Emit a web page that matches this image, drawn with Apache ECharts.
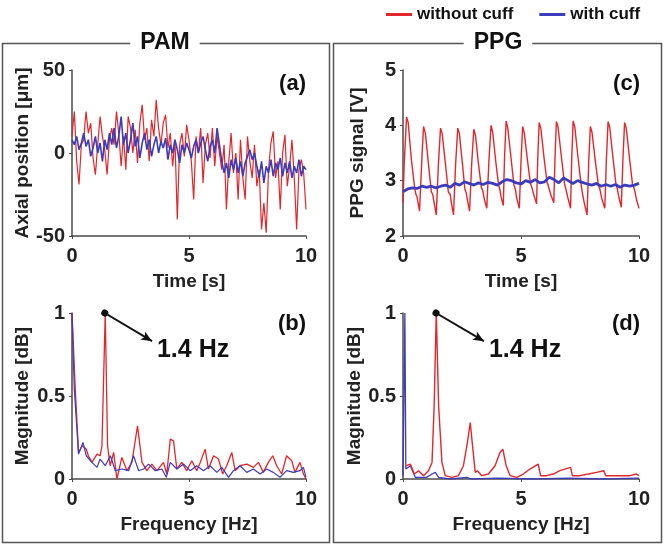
<!DOCTYPE html>
<html>
<head>
<meta charset="utf-8">
<script src="https://cdn.jsdelivr.net/npm/echarts@6/dist/echarts.min.js"></script>
<style>
  html, body { margin: 0; padding: 0; background: #fff; }
  #chart { width: 665px; height: 546px; }
</style>
</head>
<body>
<div id="chart"></div>
<script>
// PAM axial position, sampled every 0.1 s (0..10 s)
const pamWithout = [10, 25, -5, -19, 5, 8, 25, 12, 18, -3, -13, 5, 22, 10, 2, -13, 8, 15, 5, 25,
  12, -8, 10, -10, 22, 15, 0, 14, -6, 18, 29, 8, 15, -5, 20, 10, 32, 15, 5, 18,
  23, 3, 12, -8, 8, -40, 5, 12, -2, 17, 8, -5, -28, 10, 0, 15, -18, 5, 12, -3,
  15, -8, 10, 0, -10, 5, -34, -5, 12, -12, 0, -28, 8, -15, -28, 10, -5, -15, 5, -20,
  -10, -46, -30, -48, -10, 6, 13, -15, -5, -34, 0, 11, -20, -8, 8, -15, -46, -10, -4, -12, -34];
const pamWith = [8, 5, 10, 2, 6, 12, 4, 8, -2, 3, 10, 0, 6, -5, 8, 2, 12, 5, 15, 3,
  10, 22, 5, 12, 0, 8, 18, 4, 10, -3, 6, 12, 2, 8, -2, 5, 10, 0, 7, 3,
  9, -4, 5, 0, 8, 2, -6, 5, 0, 6, 2, -3, 4, 8, 0, 6, 10, 2, -5, 4,
  8, 0, 15, 5, -5, -12, -6, -15, -4, -10, -3, -12, -5, -14, -6, -2, 2, -4, 0, -8,
  -15, -5, -18, -8, -12, -4, -14, -6, -10, -3, -14, -6, -12, -5, -15, -8, -12, -4, -14, -8, -10];

// PPG signal [s, V]
const ppgWithout = [
  [0, 2.6], [0.05, 3.3], [0.15, 4.15], [0.22, 4.05], [0.35, 3.4], [0.5, 2.85], [0.55, 2.75], [0.6, 2.7], [0.7, 2.45],
  [0.8, 3.4], [0.87, 3.98], [0.95, 3.85], [1.08, 3.3], [1.2, 2.8], [1.26, 2.75], [1.3, 2.65], [1.41, 2.38],
  [1.5, 3.3], [1.59, 3.95], [1.66, 3.85], [1.8, 3.3], [1.92, 2.8], [2.0, 2.75], [2.05, 2.6], [2.14, 2.38],
  [2.23, 3.3], [2.32, 3.95], [2.39, 3.85], [2.52, 3.3], [2.62, 2.85], [2.68, 2.78], [2.73, 2.65], [2.82, 2.45],
  [2.91, 3.3], [3.0, 3.93], [3.07, 3.82], [3.2, 3.3], [3.32, 2.88], [3.38, 2.82], [3.44, 2.68], [3.55, 2.5],
  [3.64, 3.35], [3.73, 4.0], [3.8, 3.88], [3.93, 3.35], [4.05, 2.92], [4.1, 2.85], [4.15, 2.72], [4.25, 2.55],
  [4.3, 3.4], [4.37, 4.08], [4.44, 3.95], [4.58, 3.4], [4.7, 2.92], [4.76, 2.85], [4.82, 2.68], [4.93, 2.5],
  [5.0, 3.35], [5.07, 3.98], [5.14, 3.86], [5.28, 3.35], [5.4, 2.95], [5.46, 2.88], [5.54, 2.75], [5.66, 2.58],
  [5.71, 3.4], [5.77, 4.05], [5.84, 3.95], [5.98, 3.4], [6.1, 2.98], [6.16, 2.9], [6.26, 2.75], [6.39, 2.6],
  [6.44, 3.4], [6.5, 4.07], [6.57, 3.97], [6.72, 3.4], [6.84, 2.95], [6.9, 2.85], [6.98, 2.7], [7.1, 2.5],
  [7.15, 3.4], [7.21, 4.08], [7.28, 3.97], [7.42, 3.4], [7.55, 2.92], [7.6, 2.78], [7.68, 2.6], [7.8, 2.38],
  [7.87, 3.35], [7.94, 3.98], [8.01, 3.87], [8.15, 3.35], [8.28, 2.92], [8.34, 2.85], [8.42, 2.68], [8.55, 2.5],
  [8.62, 3.4], [8.69, 4.07], [8.76, 3.96], [8.9, 3.4], [9.02, 2.95], [9.08, 2.85], [9.15, 2.7], [9.25, 2.52],
  [9.32, 3.4], [9.39, 4.05], [9.46, 3.95], [9.6, 3.4], [9.72, 2.95], [9.8, 2.85], [9.9, 2.65], [10, 2.5]
];
// PPG with cuff, every 0.2 s
const ppgWith = [2.8, 2.85, 2.87, 2.86, 2.9, 2.88, 2.9, 2.87, 2.9, 2.92, 2.88, 2.95, 2.92, 2.98, 2.95, 2.92,
  2.96, 2.93, 2.97, 2.95, 2.92, 2.98, 3.02, 3.0, 2.96, 2.94, 3.0, 2.97, 3.02, 2.96, 2.98, 3.06,
  3.02, 2.96, 3.05, 3.0, 2.95, 3.0, 2.97, 2.94, 2.92, 2.95, 2.9, 2.93, 2.9, 2.93, 2.88, 2.92, 2.9, 2.92, 2.95];

// spectra [Hz, magnitude]
const pamSpecWithout = [[0, 1.0], [0.14, 0.54], [0.28, 0.16], [0.43, 0.2], [0.61, 0.18], [0.7, 0.14], [0.85, 0.1],
  [1.07, 0.15], [1.2, 0.14], [1.28, 0.2], [1.42, 1.0], [1.52, 0.2], [1.63, 0.08], [1.78, 0.16], [1.92, 0.0],
  [2.13, 0.13], [2.35, 0.05], [2.56, 0.1], [2.8, 0.32], [2.99, 0.1], [3.2, 0.05], [3.41, 0.09], [3.63, 0.05],
  [3.91, 0.1], [4.05, 0.03], [4.2, 0.24], [4.34, 0.23], [4.48, 0.06], [4.69, 0.1], [4.9, 0.05], [5.12, 0.11],
  [5.33, 0.05], [5.48, 0.1], [5.69, 0.18], [5.83, 0.06], [6.05, 0.14], [6.26, 0.12], [6.44, 0.03], [6.61, 0.08],
  [6.83, 0.16], [6.97, 0.05], [7.18, 0.08], [7.47, 0.09], [7.75, 0.07], [7.97, 0.1], [8.18, 0.04], [8.39, 0.1],
  [8.58, 0.14], [8.75, 0.08], [8.96, 0.03], [9.17, 0.14], [9.39, 0.11], [9.53, 0.04], [9.74, 0.1], [9.89, 0.03], [10, 0.0]];
const pamSpecWith = [[0, 1.0], [0.1, 0.54], [0.28, 0.15], [0.47, 0.22], [0.61, 0.14], [0.85, 0.1], [1.07, 0.07],
  [1.2, 0.12], [1.42, 0.08], [1.64, 0.14], [1.85, 0.05], [2.13, 0.06], [2.42, 0.05], [2.63, 0.14], [2.85, 0.05],
  [3.06, 0.06], [3.27, 0.09], [3.56, 0.05], [3.84, 0.06], [4.03, 0.01], [4.2, 0.1], [4.48, 0.06], [4.77, 0.09],
  [5.05, 0.05], [5.33, 0.08], [5.62, 0.05], [5.9, 0.08], [6.19, 0.04], [6.4, 0.07], [6.69, 0.01], [6.9, 0.05],
  [7.18, 0.08], [7.47, 0.04], [7.75, 0.06], [8.04, 0.03], [8.32, 0.06], [8.6, 0.04], [8.89, 0.01], [9.17, 0.05],
  [9.46, 0.04], [9.74, 0.05], [9.89, 0.07], [10, 0.01]];
const ppgSpecWithout = [[0.14, 0.08], [0.31, 0.09], [0.48, 0.03], [0.66, 0.05], [0.87, 0.02], [1.08, 0.05],
  [1.23, 0.1], [1.32, 0.44], [1.41, 1.0], [1.51, 0.44], [1.65, 0.1], [1.79, 0.02], [2.07, 0.01], [2.35, 0.02],
  [2.56, 0.08], [2.73, 0.22], [2.85, 0.34], [2.96, 0.18], [3.06, 0.04], [3.15, 0.05], [3.34, 0.02], [3.62, 0.03],
  [3.9, 0.08], [4.11, 0.16], [4.23, 0.18], [4.37, 0.08], [4.54, 0.02], [4.82, 0.01], [5.1, 0.03], [5.38, 0.06],
  [5.73, 0.09], [5.83, 0.02], [6.08, 0.02], [6.37, 0.03], [6.65, 0.05], [7.1, 0.07], [7.18, 0.02], [7.49, 0.02],
  [7.85, 0.03], [8.2, 0.04], [8.51, 0.05], [8.59, 0.02], [8.9, 0.02], [9.32, 0.02], [9.61, 0.02], [9.89, 0.03], [10, 0.02]];
const ppgSpecWith = [[0, 0.02], [0.08, 1.0], [0.12, 0.06], [0.31, 0.08], [0.52, 0.01], [1.0, 0.01], [1.23, 0.03],
  [1.37, 0.04], [1.51, 0.01], [2.0, 0.0], [2.7, 0.01], [2.9, 0.0], [4.0, 0.005], [5.5, 0.0], [7.0, 0.005], [8.5, 0.0], [10, 0.005]];

const peakFreq = 1.4;

const RED = '#e3262b';
const BLUE = '#3b3bbd';
const AXIS = '#4a4a4a';
const FONT = 'Liberation Sans, Arial, sans-serif';

const pamWithoutData = pamWithout.map((v, i) => [i / 10, v]);
const pamWithData = pamWith.map((v, i) => [i / 10, v]);
const ppgWithData = ppgWith.map((v, i) => [i / 5, v]);

const grids = [
  { left: 72, top: 70, width: 234, height: 166 },
  { left: 72, top: 313, width: 234, height: 166 },
  { left: 403, top: 70, width: 236, height: 166 },
  { left: 403, top: 313, width: 236, height: 166 }
];

function xAxis(i, name) {
  return {
    type: 'value', gridIndex: i, min: 0, max: 10, interval: 5,
    name: name, nameLocation: 'middle', nameGap: 36,
    nameTextStyle: { fontSize: 19, fontWeight: 'bold', color: '#222', fontFamily: FONT },
    axisLine: { onZero: false, lineStyle: { color: AXIS, width: 1.5 } },
    axisTick: { length: 3, lineStyle: { color: AXIS } },
    splitLine: { show: false },
    axisLabel: { fontSize: 20, fontWeight: 'bold', color: '#222', fontFamily: FONT, margin: 10 }
  };
}
function yAxis(i, name, min, max, interval, gap) {
  return {
    type: 'value', gridIndex: i, min: min, max: max, interval: interval,
    name: name, nameLocation: 'middle', nameGap: gap,
    nameTextStyle: { fontSize: 19, fontWeight: 'bold', color: '#222', fontFamily: FONT },
    axisLine: { show: true, onZero: false, lineStyle: { color: AXIS, width: 1.5 } },
    axisTick: { show: true, length: 3, lineStyle: { color: AXIS } },
    splitLine: { show: false },
    axisLabel: { fontSize: 20, fontWeight: 'bold', color: '#222', fontFamily: FONT, margin: 7 }
  };
}

function annot(arrowEnd, textPos) {
  return {
    markLine: {
      silent: true, animation: false,
      symbol: ['circle', 'arrow'], symbolSize: [7, 11],
      lineStyle: { color: '#111', width: 2, type: 'solid' },
      label: { show: false },
      data: [[{ coord: [peakFreq, 1] }, { coord: arrowEnd }]]
    },
    markPoint: {
      silent: true, animation: false, symbol: 'circle', symbolSize: 0,
      label: { show: true, position: 'right', distance: 0, formatter: peakFreq + ' Hz',
        fontSize: 25, fontWeight: 'bold', color: '#111', fontFamily: FONT },
      data: [{ coord: textPos }]
    }
  };
}

function line(name, xi, data, color, width, extra) {
  return Object.assign({
    type: 'line', name: name, xAxisIndex: xi, yAxisIndex: xi, data: data,
    showSymbol: false, symbol: 'none', animation: false,
    lineStyle: { color: color, width: width }, itemStyle: { color: color }
  }, extra || {});
}

const option = {
  backgroundColor: '#fff',
  textStyle: { fontFamily: FONT },
  legend: {
    left: 381, top: 1, itemWidth: 26, itemHeight: 3, itemGap: 26, icon: 'rect',
    textStyle: { fontSize: 17, fontWeight: 'bold', color: '#111', fontFamily: FONT },
    data: ['without cuff', 'with cuff']
  },
  grid: grids,
  xAxis: [xAxis(0, 'Time [s]'), xAxis(1, 'Frequency [Hz]'), xAxis(2, 'Time [s]'), xAxis(3, 'Frequency [Hz]')],
  yAxis: [
    yAxis(0, 'Axial position [μm]', -50, 50, 50, 40),
    yAxis(1, 'Magnitude [dB]', 0, 1, 0.5, 40),
    yAxis(2, 'PPG signal [V]', 2, 5, 1, 36),
    yAxis(3, 'Magnitude [dB]', 0, 1, 0.5, 36)
  ],
  series: [
    line('without cuff', 0, pamWithoutData, RED, 1.2),
    line('with cuff', 0, pamWithData, BLUE, 1.6),
    line('without cuff', 1, pamSpecWithout, RED, 1.3, annot([3.42, 0.83], [3.63, 0.775])),
    line('with cuff', 1, pamSpecWith, BLUE, 1.2),
    line('without cuff', 2, ppgWithout, RED, 1.4),
    line('with cuff', 2, ppgWithData, BLUE, 2.8),
    line('with cuff', 3, ppgSpecWith, BLUE, 1.3),
    line('without cuff', 3, ppgSpecWithout, RED, 1.4, annot([3.43, 0.83], [3.64, 0.775]))
  ],
  graphic: [
    { type: 'rect', shape: { x: 2.5, y: 43.5, width: 327, height: 499 }, style: { fill: 'none', stroke: '#555', lineWidth: 1.5 }, silent: true, z: -1 },
    { type: 'rect', shape: { x: 333.5, y: 43.5, width: 328, height: 499 }, style: { fill: 'none', stroke: '#555', lineWidth: 1.5 }, silent: true, z: -1 },
    { type: 'text', x: 165, y: 43, style: { text: 'PAM', fontSize: 23, fontWeight: 'bold', fill: '#111', fontFamily: FONT,
      align: 'center', verticalAlign: 'middle', backgroundColor: '#fff', padding: [0, 10] }, z: 5 },
    { type: 'text', x: 498, y: 43, style: { text: 'PPG', fontSize: 23, fontWeight: 'bold', fill: '#111', fontFamily: FONT,
      align: 'center', verticalAlign: 'middle', backgroundColor: '#fff', padding: [0, 10] }, z: 5 },
    { type: 'text', x: 306, y: 84, style: { text: '(a)', fontSize: 22, fontWeight: 'bold', fill: '#111', fontFamily: FONT, align: 'right', verticalAlign: 'middle' } },
    { type: 'text', x: 306, y: 324, style: { text: '(b)', fontSize: 22, fontWeight: 'bold', fill: '#111', fontFamily: FONT, align: 'right', verticalAlign: 'middle' } },
    { type: 'text', x: 640, y: 84, style: { text: '(c)', fontSize: 22, fontWeight: 'bold', fill: '#111', fontFamily: FONT, align: 'right', verticalAlign: 'middle' } },
    { type: 'text', x: 640, y: 324, style: { text: '(d)', fontSize: 22, fontWeight: 'bold', fill: '#111', fontFamily: FONT, align: 'right', verticalAlign: 'middle' } }
  ]
};

var myChart = echarts.init(document.getElementById('chart'));
myChart.setOption(option);
</script>
</body>
</html>
